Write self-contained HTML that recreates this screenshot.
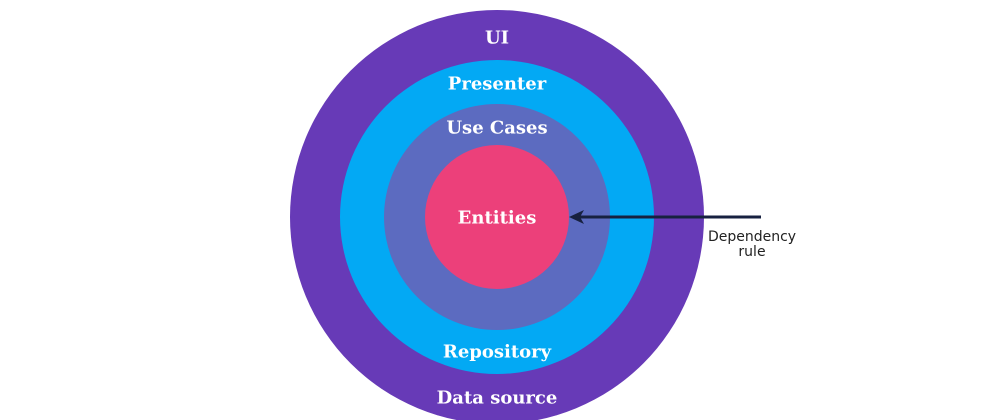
<!DOCTYPE html>
<html><head><meta charset="utf-8"><style>
html,body{margin:0;padding:0;background:#fff;}
svg{display:block;}
.l{font-family:"DejaVu Serif","Liberation Serif",serif;font-weight:bold;font-size:18px;fill:#fff;text-anchor:middle;dominant-baseline:central;}
.d{font-family:"DejaVu Sans","Liberation Sans",sans-serif;font-size:14px;fill:#222;text-anchor:middle;}
</style></head><body>
<svg width="1000" height="420" viewBox="0 0 1000 420">
<circle cx="497" cy="217" r="207" fill="#673ab7"/>
<circle cx="497" cy="217" r="157" fill="#03a9f4"/>
<circle cx="497" cy="217" r="113" fill="#5c6bc0"/>
<circle cx="497" cy="217" r="72" fill="#ec407a"/>
<text class="l" x="497" y="38">UI</text>
<text class="l" x="497" y="84">Presenter</text>
<text class="l" x="497" y="128">Use Cases</text>
<text class="l" x="497" y="218">Entities</text>
<text class="l" x="497" y="352">Repository</text>
<text class="l" x="497" y="398">Data source</text>
<line x1="761" y1="217" x2="578" y2="217" stroke="#172140" stroke-width="3"/>
<polygon points="569,217 584,210 580,217 584,224" fill="#172140"/>
<text class="d" x="752" y="241">Dependency</text>
<text class="d" x="752" y="256">rule</text>
</svg>
</body></html>
